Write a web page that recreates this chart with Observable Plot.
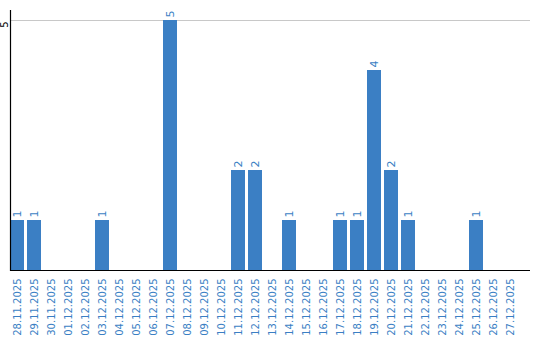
<!DOCTYPE html>
<html><head><meta charset="utf-8">
<script src="https://cdn.jsdelivr.net/npm/d3@7"></script>
<script src="https://cdn.jsdelivr.net/npm/@observablehq/plot@0.6"></script>
<style>body{margin:0;background:#fff}</style>
</head><body><div id="chart"></div>
<script>
const dates = ["28.11.2025","29.11.2025","30.11.2025","01.12.2025","02.12.2025","03.12.2025","04.12.2025","05.12.2025","06.12.2025","07.12.2025","08.12.2025","09.12.2025","10.12.2025","11.12.2025","12.12.2025","13.12.2025","14.12.2025","15.12.2025","16.12.2025","17.12.2025","18.12.2025","19.12.2025","20.12.2025","21.12.2025","22.12.2025","23.12.2025","24.12.2025","25.12.2025","26.12.2025","27.12.2025"];
const counts = [1,1,0,0,0,1,0,0,0,5,0,0,0,2,2,0,1,0,0,1,1,4,2,1,0,0,0,1,0,0];
const yTicks = [5];

const data = dates.map((d, i) => ({date: d, count: counts[i]}));
const nonZero = data.filter(d => d.count > 0);
const blue = "#3b7fc4";

const chart = Plot.plot({
  width: 540, height: 340,
  marginLeft: 10, marginRight: 10, marginTop: 10, marginBottom: 70,
  style: {fontFamily: "DejaVu Sans", fontSize: "10px", background: "#fff"},
  x: {type: "band", domain: dates, range: [10, 517], paddingInner: 3/17, paddingOuter: 0, axis: null},
  y: {domain: [0, 5.2], axis: null},
  marks: [
    Plot.ruleY(yTicks, {stroke: "#c8c8c8", strokeWidth: 1}),
    Plot.barY(nonZero, {x: "date", y: "count", fill: blue}),
    Plot.text(nonZero, {x: "date", y: "count", text: d => String(d.count), rotate: -90, textAnchor: "start", lineAnchor: "middle", dy: -3, fill: blue, fontSize: 11}),
    Plot.axisX({tickSize: 0, tickPadding: 8, tickRotate: -90, fill: blue, fontSize: 10, label: null}),
    Plot.axisY({ticks: yTicks, tickFormat: d => String(d), tickSize: 0, tickPadding: 3, tickRotate: -90, dy: 4, fill: "#000", fontSize: 10, label: null}),
    Plot.ruleY([0], {stroke: "#000", strokeWidth: 1.2}),
    Plot.frame({anchor: "left", stroke: "#000", strokeWidth: 1.2})
  ]
});
document.getElementById("chart").append(chart);
</script></body></html>
